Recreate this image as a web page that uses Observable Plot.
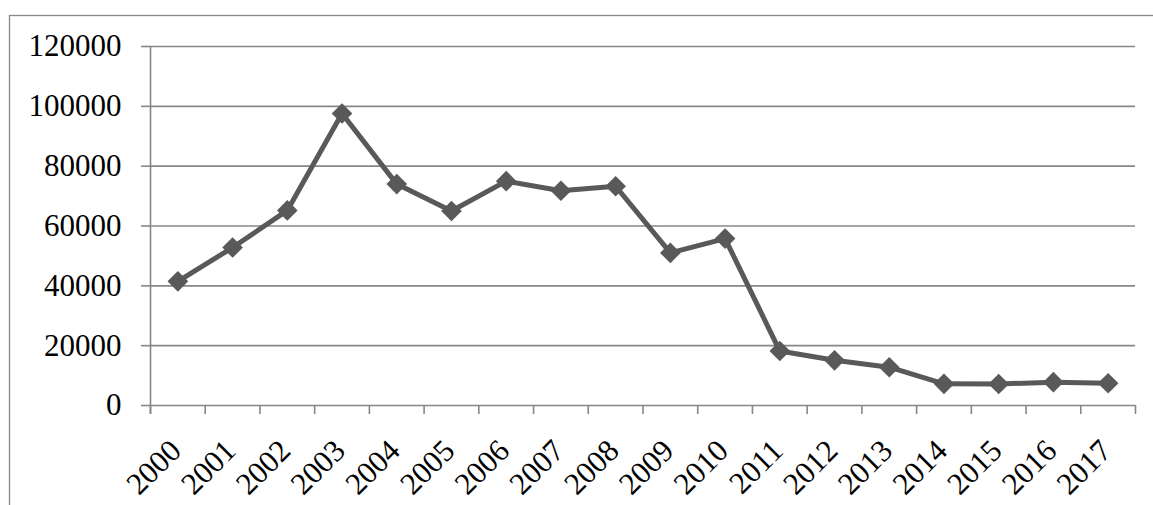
<!DOCTYPE html>
<html>
<head>
<meta charset="utf-8">
<script src="https://cdn.jsdelivr.net/npm/d3@7"></script>
<script src="https://cdn.jsdelivr.net/npm/@observablehq/plot@0.6"></script>
<style>
  html, body { margin: 0; padding: 0; background: #fff; overflow: hidden; }
</style>
</head>
<body>
<div id="chart"></div>
<script>
const years = ["2000","2001","2002","2003","2004","2005","2006","2007","2008",
               "2009","2010","2011","2012","2013","2014","2015","2016","2017"];
const values = [41500, 52800, 65200, 97600, 74000, 65000, 75000, 71800, 73300,
                51000, 55800, 18200, 15100, 12800, 7250, 7200, 7800, 7450];
const yTicks = [0, 20000, 40000, 60000, 80000, 100000, 120000];

const data = years.map((year, i) => ({year, i, value: values[i]}));
const boundaries = d3.range(0, years.length + 1);

const font = "'Liberation Serif', 'Times New Roman', serif";
const gray = "#878787";
const lineColor = "#595959";

const chart = Plot.plot({
  width: 1153,
  height: 505,
  marginLeft: 150,
  marginRight: 18,
  marginTop: 46,
  marginBottom: 100,
  style: {fontFamily: font, background: "#fff", color: "#000"},
  x: {type: "linear", domain: [0, years.length]},
  y: {domain: [0, 120000]},
  marks: [
    Plot.frame({insetLeft: -141, insetTop: -31, insetRight: -60, insetBottom: -200, stroke: gray, strokeWidth: 1.3}),
    Plot.gridY(yTicks, {stroke: gray, strokeOpacity: 1, strokeWidth: 1.6}),
    Plot.axisY({ticks: yTicks, tickSize: 9, tickPadding: 20, fontSize: 31, stroke: gray, strokeWidth: 1.6,
                fill: "#000", tickFormat: d => String(d), label: null}),
    Plot.ruleX([0], {stroke: gray, strokeWidth: 1.6, insetBottom: -9}),
    Plot.axisX({ticks: boundaries, tickSize: 9, stroke: gray, strokeWidth: 1.6, tickFormat: () => "", label: null}),
    Plot.text(data, {x: d => d.i + 0.5, frameAnchor: "bottom", text: "year", rotate: -45,
                     textAnchor: "end", fontSize: 31, fill: "#000", dx: 5, dy: 47}),
    Plot.line(data, {x: d => d.i + 0.5, y: "value", stroke: lineColor, strokeWidth: 5}),
    Plot.dot(data, {x: d => d.i + 0.5, y: "value", symbol: "diamond2", r: 9.3, fill: lineColor, stroke: "none"})
  ]
});
document.getElementById("chart").appendChild(chart);
</script>
</body>
</html>
